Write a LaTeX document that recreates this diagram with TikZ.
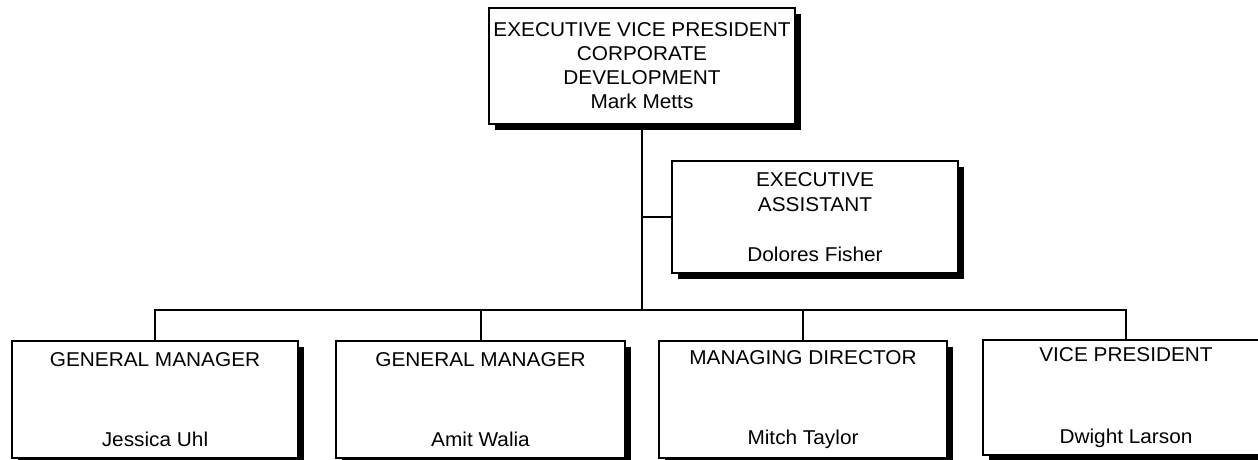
\documentclass[tikz,border=0pt]{standalone}
\usepackage{fontspec}
\setmainfont{Liberation Sans}[FakeStretch=1.04]
\usetikzlibrary{shadows}
\begin{document}
\begin{tikzpicture}[x=0.5pt,y=-0.5pt,
  orgbox/.style={draw=black, line width=1pt, fill=white, align=center,
    inner sep=0pt, font=\fontsize{10}{12}\selectfont,
    drop shadow={shadow xshift=3pt, shadow yshift=-3.2pt, fill=black, opacity=1}},
  link/.style={draw=black, line width=1pt}]
\useasboundingbox (0,0) rectangle (1258,460);
\fill[white] (0,0) rectangle (1258,460);
% top
\node[orgbox, minimum width=153pt, minimum height=58pt] (top) at (642,66)
  {EXECUTIVE VICE PRESIDENT\\CORPORATE\\DEVELOPMENT\\Mark Metts};
% assistant
\node[orgbox, minimum width=143pt, minimum height=56pt] (asst) at (815,217)
  {EXECUTIVE\\[0.5pt]ASSISTANT\\[13pt]Dolores Fisher};
% bottom row
\node[orgbox, minimum width=143pt, minimum height=58.5pt] (b1) at (155,399.5)
  {GENERAL MANAGER\\[28pt]Jessica Uhl};
\node[orgbox, minimum width=144.5pt, minimum height=58.5pt] (b2) at (480.5,399.5)
  {GENERAL MANAGER\\[28pt]Amit Walia};
\node[orgbox, minimum width=144pt, minimum height=58.5pt] (b3) at (803,399.5)
  {MANAGING DIRECTOR\\[28pt]Mitch Taylor};
\node[orgbox, minimum width=143pt, minimum height=57.5pt] (b4) at (1126,397.5)
  {VICE PRESIDENT\\[29pt]Dwight Larson};
% connectors
\coordinate (j) at (642,310);
\draw[link] (top.south) -- (j);
\draw[link] (asst.west) -- (asst.west -| top.south);
\draw[link] (b1.north) |- (b4.north |- j) -- (b4.north);
\draw[link] (b2.north) -- (b2.north |- j);
\draw[link] (b3.north) -- (b3.north |- j);
\end{tikzpicture}
\end{document}
